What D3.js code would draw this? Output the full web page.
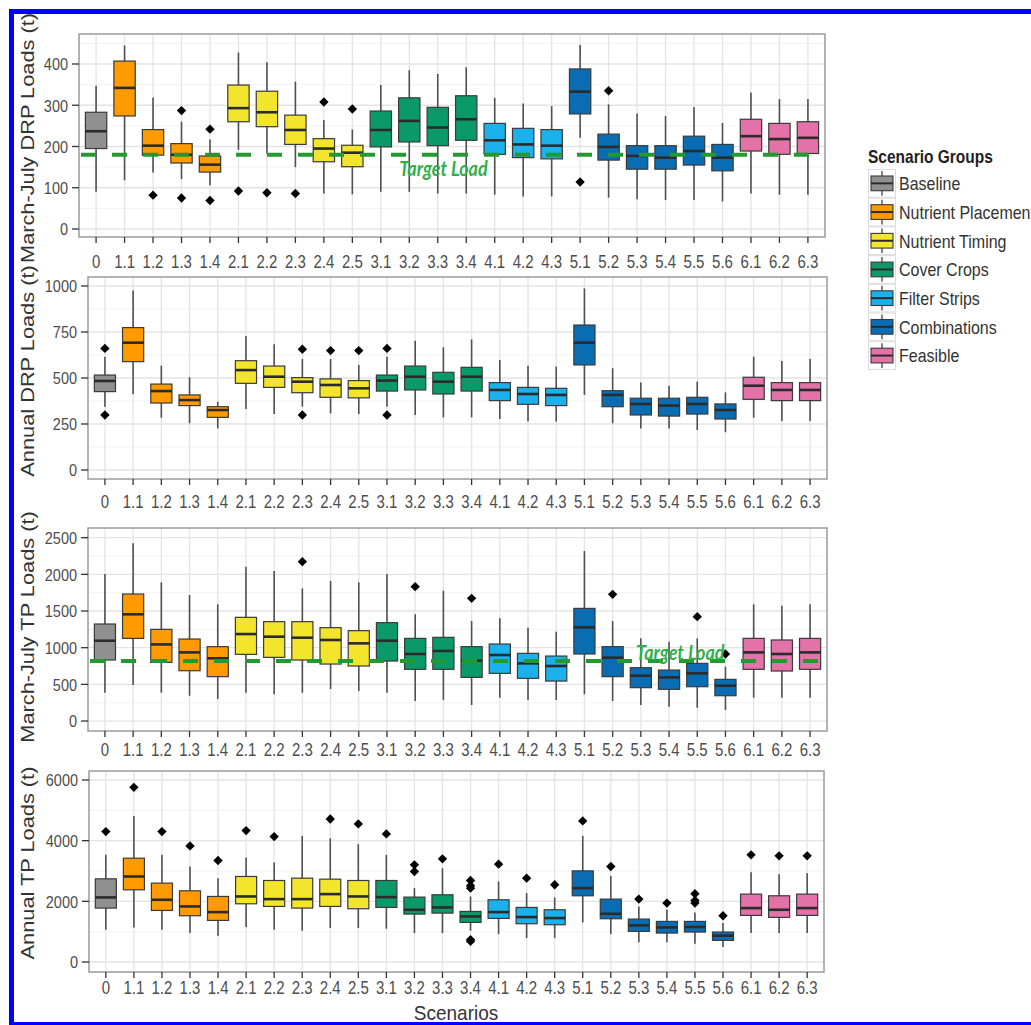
<!DOCTYPE html>
<html>
<head>
<meta charset="utf-8">
<script src="https://cdn.jsdelivr.net/npm/d3@7"></script>
<style>
  body { margin: 0; background: #fff; }
  svg { display: block; font-family: "Liberation Sans", Arial, sans-serif; }
</style>
</head>
<body>
<div id="chart"></div>
<script>
// scenarios and their groups
var scenarios = ["0","1.1","1.2","1.3","1.4","2.1","2.2","2.3","2.4","2.5","3.1","3.2","3.3","3.4",
  "4.1","4.2","4.3","5.1","5.2","5.3","5.4","5.5","5.6","6.1","6.2","6.3"];
var scenarioGroup = ["Baseline",
  "Nutrient Placement","Nutrient Placement","Nutrient Placement","Nutrient Placement",
  "Nutrient Timing","Nutrient Timing","Nutrient Timing","Nutrient Timing","Nutrient Timing",
  "Cover Crops","Cover Crops","Cover Crops","Cover Crops",
  "Filter Strips","Filter Strips","Filter Strips",
  "Combinations","Combinations","Combinations","Combinations","Combinations","Combinations",
  "Feasible","Feasible","Feasible"];
var groupNames = ["Baseline","Nutrient Placement","Nutrient Timing","Cover Crops","Filter Strips","Combinations","Feasible"];
var groupColors = ["#909090","#ff9a00","#f3e42c","#0a9a6a","#1ab1ec","#0a6db3","#e272a7"];

// [lower whisker, q1, median, q3, upper whisker]
var mjDrpStats = [[90,195,237,283,347],[118,274,342,407,445],[137,179,202,241,319],[121,160,180,207,260],
  [106,138,156,177,217],[192,260,293,349,428],[183,248,283,334,404],[150,205,240,276,357],[86,163,195,219,264],
  [84,151,185,203,241],[90,199,240,286,349],[90,211,262,318,385],[86,202,246,295,376],[86,215,266,323,392],
  [83,181,215,256,318],[79,173,205,244,304],[79,170,202,241,298],[221,279,333,388,446],[76,167,199,230,302],
  [72,145,177,202,280],[70,145,173,202,274],[70,155,189,225,296],[67,141,173,205,257],[86,189,225,266,331],
  [83,181,218,256,315],[83,183,221,260,315]];
var mjDrpOutliers = [[],[],[82],[287,75],[242,69],[92],[88],[86],[308],[291],[],[],[],[],[],[],[],[114],[335],
  [],[],[],[],[],[],[]];

var annDrpStats = [[344,426,484,516,616],[411,589,692,774,975],[284,364,429,467,567],[254,350,380,408,504],
  [226,286,326,344,371],[332,471,543,594,728],[304,449,507,565,683],[344,420,480,502,603],[308,395,462,495,603],
  [304,392,444,486,571],[344,429,486,516,616],[299,435,507,565,703],[286,413,480,531,667],[286,429,507,558,710],
  [277,377,435,475,598],[263,357,413,449,567],[263,350,408,444,562],[408,571,692,788,987],[254,344,408,431,553],
  [226,299,359,390,475],[226,293,350,390,458],[217,304,359,395,480],[205,277,326,359,422],[284,384,458,504,616],
  [266,377,435,475,592],[266,377,435,475,603]];
var annDrpOutliers = [[661,299],[],[],[],[],[],[],[656,299],[649],[649],[661,299],[],[],[],[],[],[],[],[],
  [],[],[],[],[],[],[]];

var mjTpStats = [[386,832,1095,1323,2005],[491,1127,1455,1732,2423],[386,800,1045,1250,1891],[345,686,936,1118,1718],
  [300,605,855,1014,1591],[386,909,1186,1414,2105],[364,868,1150,1355,2045],[386,832,1136,1355,1809],
  [436,777,1105,1273,1909],[409,750,1059,1232,1891],[386,818,1095,1341,2005],[273,705,914,1127,1455],
  [286,705,955,1141,1777],[218,595,823,1014,1364],[318,650,900,1050,1400],[286,582,786,923,1273],
  [286,545,750,886,1218],[364,914,1277,1536,2318],[273,605,864,1014,1364],[218,455,618,727,1127],
  [195,432,595,695,1082],[182,468,650,786,1127],[150,345,482,568,741],[318,705,936,1127,1591],
  [318,682,914,1105,1573],[318,705,936,1127,1591]];
var mjTpOutliers = [[],[],[],[],[],[],[],[2173],[],[],[],[1832],[],[1673],[],[],[],[],[1727],[],[],[1423],[914],
  [],[],[]];

var annTpStats = [[1064,1777,2128,2742,3532],[1141,2380,2819,3422,4815],[1064,1700,2051,2600,3532],
  [954,1525,1832,2347,3148],[867,1371,1645,2161,2764],[1150,1919,2161,2819,3444],[1064,1832,2073,2687,3280],
  [1031,1777,2073,2764,4157],[1119,1832,2238,2731,4080],[1119,1755,2161,2687,3883],[1097,1799,2139,2687,3532],
  [954,1580,1722,2139,2435],[954,1612,1799,2216,3093],[1031,1305,1503,1667,2161],[921,1437,1645,2051,2654],
  [790,1261,1481,1799,2270],[790,1228,1448,1722,2128],[1305,2183,2435,3005,4157],[921,1426,1590,2073,2841],
  [647,1009,1207,1415,1832],[647,954,1141,1338,1722],[603,987,1152,1338,1634],[494,713,867,987,1283],
  [954,1536,1777,2238,2962],[954,1470,1722,2183,2896],[954,1536,1777,2238,2929]];
var annTpOutliers = [[4300],[5758],[4300],[3828],[3345],[4333],[4135],[],[4716],[4552],[4223],[3203,2983],[3400],
  [2687,2512,2435,735,680],[3225],[2764],[2545],[4651],[3148],[2073],[1941],[2249,2029,1941],[1525],
  [3532],[3499],[3499]];

var mjDrpTicks = [0,100,200,300,400];
var annDrpTicks = [0,250,500,750,1000];
var mjTpTicks = [0,500,1000,1500,2000,2500];
var annTpTicks = [0,2000,4000,6000];

var drpTarget = 180;
var tpTarget = 820;

var W = 1031, H = 1025;
var svg = d3.select("#chart").append("svg").attr("width", W).attr("height", H);
var colorOf = d3.scaleOrdinal().domain(groupNames).range(groupColors);
var stretch = 1.2;

var panels = [
  {title: "March-July DRP Loads (t)", stats: mjDrpStats, outliers: mjDrpOutliers, ticks: mjDrpTicks,
   domain: [-19.4, 472.7], left: 79, right: 825, top: 34, bottom: 237, labelY: 262, titleY: 138,
   target: drpTarget, label: {x: 12.2, y: 148}},
  {title: "Annual DRP Loads (t)", stats: annDrpStats, outliers: annDrpOutliers, ticks: annDrpTicks,
   domain: [-49, 1049], left: 88, right: 827, top: 277, bottom: 479, labelY: 502, titleY: 371},
  {title: "March-July TP Loads (t)", stats: mjTpStats, outliers: mjTpOutliers, ticks: mjTpTicks,
   domain: [-136, 2632], left: 88, right: 827, top: 528, bottom: 731, labelY: 750, titleY: 627,
   target: tpTarget, label: {x: 20.4, y: 941}},
  {title: "Annual TP Loads (t)", stats: annTpStats, outliers: annTpOutliers, ticks: annTpTicks,
   domain: [-330, 6297], left: 89, right: 824, top: 771, bottom: 972, labelY: 988, titleY: 863}
];

panels.forEach(function (p) {
  var x = d3.scalePoint().domain(scenarios).range([p.left, p.right]).padding(0.6);
  var y = d3.scaleLinear().domain(p.domain).range([p.bottom, p.top]);
  var bw = x.step() * 0.75;
  var g = svg.append("g");

  g.append("rect").attr("x", p.left).attr("y", p.top)
    .attr("width", p.right - p.left).attr("height", p.bottom - p.top).attr("fill", "#fff");

  // minor grid
  var step = p.ticks[1] - p.ticks[0];
  var minors = p.ticks.map(function (t) { return t + step / 2; })
    .filter(function (t) { return y(t) > p.top; });
  g.selectAll(".minor").data(minors).enter().append("line")
    .attr("x1", p.left).attr("x2", p.right)
    .attr("y1", function (d) { return y(d); }).attr("y2", function (d) { return y(d); })
    .attr("stroke", "#f3f3f3").attr("stroke-width", 1);
  g.selectAll(".hmaj").data(p.ticks).enter().append("line")
    .attr("x1", p.left).attr("x2", p.right)
    .attr("y1", function (d) { return y(d); }).attr("y2", function (d) { return y(d); })
    .attr("stroke", "#e4e4e4").attr("stroke-width", 1.3);
  g.selectAll(".vmaj").data(scenarios).enter().append("line")
    .attr("x1", function (d) { return x(d); }).attr("x2", function (d) { return x(d); })
    .attr("y1", p.top).attr("y2", p.bottom)
    .attr("stroke", "#e4e4e4").attr("stroke-width", 1.3);

  // boxes
  var boxes = g.selectAll(".box").data(scenarios).enter().append("g");
  boxes.append("line")
    .attr("x1", function (d) { return x(d); }).attr("x2", function (d) { return x(d); })
    .attr("y1", function (d, i) { return y(p.stats[i][0]); })
    .attr("y2", function (d, i) { return y(p.stats[i][4]); })
    .attr("stroke", "#505050").attr("stroke-width", 1.6);
  boxes.append("rect")
    .attr("x", function (d) { return x(d) - bw / 2; }).attr("width", bw)
    .attr("y", function (d, i) { return y(p.stats[i][3]); })
    .attr("height", function (d, i) { return y(p.stats[i][1]) - y(p.stats[i][3]); })
    .attr("fill", function (d, i) { return colorOf(scenarioGroup[i]); })
    .attr("stroke", "#3a3a3a").attr("stroke-width", 1.2);
  boxes.append("line")
    .attr("x1", function (d) { return x(d) - bw / 2; }).attr("x2", function (d) { return x(d) + bw / 2; })
    .attr("y1", function (d, i) { return y(p.stats[i][2]); })
    .attr("y2", function (d, i) { return y(p.stats[i][2]); })
    .attr("stroke", "#2b2b2b").attr("stroke-width", 2.6);

  var pts = [];
  p.outliers.forEach(function (arr, i) {
    arr.forEach(function (v) { pts.push({s: scenarios[i], v: v}); });
  });
  g.selectAll(".out").data(pts).enter().append("path")
    .attr("d", d3.symbol().type(d3.symbolSquare).size(44))
    .attr("transform", function (d) { return "translate(" + x(d.s) + "," + y(d.v) + ") rotate(45)"; })
    .attr("fill", "#000");

  // target line
  if (p.target !== undefined) {
    g.append("line").attr("x1", p.left + 2).attr("x2", p.right)
      .attr("y1", y(p.target)).attr("y2", y(p.target))
      .attr("stroke", "#23992f").attr("stroke-width", 4)
      .attr("stroke-dasharray", "15,16");
    var lx = x(scenarios[0]) + p.label.x * x.step();
    g.append("text")
      .attr("transform", "translate(" + lx + "," + y(p.label.y) + ") scale(1," + stretch + ")")
      .attr("text-anchor", "middle").attr("dy", "0.35em")
      .attr("font-family", "Lato, 'Open Sans', sans-serif")
      .attr("font-style", "italic").attr("font-weight", "bold").attr("font-size", 18)
      .attr("fill", "#2fb04a").text("Target Load");
  }

  // frame
  g.append("rect").attr("x", p.left).attr("y", p.top)
    .attr("width", p.right - p.left).attr("height", p.bottom - p.top)
    .attr("fill", "none").attr("stroke", "#9a9a9a").attr("stroke-width", 1.5);

  // y axis
  g.selectAll(".yt").data(p.ticks).enter().append("line")
    .attr("x1", p.left - 7).attr("x2", p.left)
    .attr("y1", function (d) { return y(d); }).attr("y2", function (d) { return y(d); })
    .attr("stroke", "#333").attr("stroke-width", 1.3);
  g.selectAll(".yl").data(p.ticks).enter().append("text")
    .attr("transform", function (d) { return "translate(" + (p.left - 11) + "," + y(d) + ") scale(1," + stretch + ")"; })
    .attr("text-anchor", "end").attr("dy", "0.36em")
    .attr("font-size", 14.5).attr("fill", "#4d4d4d").text(function (d) { return d; });

  // x axis
  g.selectAll(".xt").data(scenarios).enter().append("line")
    .attr("x1", function (d) { return x(d); }).attr("x2", function (d) { return x(d); })
    .attr("y1", p.bottom).attr("y2", p.bottom + 6)
    .attr("stroke", "#333").attr("stroke-width", 1.3);
  g.selectAll(".xl").data(scenarios).enter().append("text")
    .attr("transform", function (d) { return "translate(" + x(d) + "," + p.labelY + ") scale(1," + stretch + ")"; })
    .attr("text-anchor", "middle").attr("dy", "0.36em")
    .attr("font-size", 15).attr("fill", "#4d4d4d").text(function (d) { return d; });

  // y title
  g.append("text")
    .attr("transform", "translate(34," + p.titleY + ") rotate(-90) scale(1.21,1)")
    .attr("text-anchor", "middle")
    .attr("font-size", 18).attr("fill", "#333").text(p.title);
});

svg.append("text")
  .attr("transform", "translate(456,1020) scale(1,1.1)")
  .attr("text-anchor", "middle")
  .attr("font-size", 19).attr("fill", "#333").text("Scenarios");

// legend
var leg = svg.append("g");
leg.append("text")
  .attr("transform", "translate(868,156) scale(1," + stretch + ")")
  .attr("dy", "0.35em").attr("font-size", 15.5).attr("font-weight", "bold")
  .attr("fill", "#222").text("Scenario Groups");
var keyH = 28.7, keyTop = 169;
var keys = leg.selectAll(".key").data(groupNames).enter().append("g")
  .attr("transform", function (d, i) { return "translate(868," + (keyTop + i * keyH) + ")"; });
keys.append("rect").attr("x", 0.5).attr("y", 0.5).attr("width", 27).attr("height", keyH - 1)
  .attr("fill", "#fff").attr("stroke", "#dcdcdc");
keys.append("line").attr("x1", 14).attr("x2", 14).attr("y1", 2).attr("y2", keyH - 2)
  .attr("stroke", "#505050").attr("stroke-width", 1.4);
keys.append("rect").attr("x", 3).attr("y", 7).attr("width", 22).attr("height", keyH - 14)
  .attr("fill", function (d) { return colorOf(d); }).attr("stroke", "#3a3a3a").attr("stroke-width", 1.1);
keys.append("line").attr("x1", 3).attr("x2", 25).attr("y1", keyH / 2).attr("y2", keyH / 2)
  .attr("stroke", "#2b2b2b").attr("stroke-width", 2);
keys.append("text")
  .attr("transform", "translate(31," + (keyH / 2) + ") scale(1," + stretch + ")")
  .attr("dy", "0.36em").attr("font-size", 16).attr("fill", "#333")
  .text(function (d) { return d; });

// blue frame round the figure
svg.append("rect").attr("x", 11.5).attr("y", 11.5).attr("width", 1100).attr("height", 1013)
  .attr("fill", "none").attr("stroke", "#0000ff").attr("stroke-width", 5);
</script>
</body>
</html>
